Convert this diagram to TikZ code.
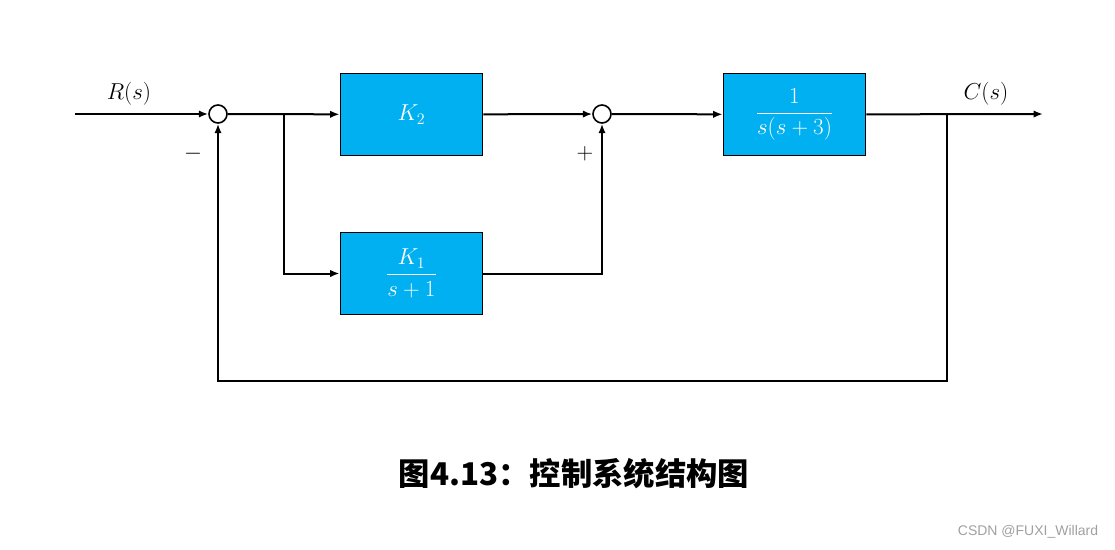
\documentclass[tikz,border=0pt]{standalone}
\usepackage{amsmath}
\usepackage{fontspec}
\usetikzlibrary{arrows.meta}
\newfontfamily\cjk{Noto Sans CJK SC}
\newfontfamily\wm{Liberation Sans}
\definecolor{blk}{HTML}{00B0F0}
\definecolor{wmgray}{HTML}{A0A0A0}
\tikzset{
  blockbox/.style={draw=black, line width=0.9pt, fill=blk, minimum width=107pt, minimum height=62pt, inner sep=0pt, text=white, font=\fontsize{18.5}{22}\selectfont},
  sumnode/.style={draw=black, circle, line width=1.2pt, minimum size=13.5pt, inner sep=0pt, fill=white},
  conn/.style={line width=1.5pt, -{Latex[length=7pt,width=5.5pt]}},
  lbl/.style={font=\fontsize{18.5}{22}\selectfont},
}
\begin{document}
\begin{tikzpicture}[x=0.75pt, y=-0.75pt]
\useasboundingbox (0,0) rectangle (1115,550);
\node[sumnode] (s1) at (218,114) {};
\node[sumnode] (s2) at (602,114) {};
\node[blockbox] (k2) at (411.5,114.5) {$K_2$};
\node[blockbox] (k1) at (411.5,273.5) {$\dfrac{K_1}{s+1}$};
\node[blockbox] (g) at (794.5,114.5) {$\dfrac{1}{s(s+3)}$};
\coordinate (in) at (75,114);
\coordinate (out) at (1043,114);
\coordinate (br1) at (284,114);
\coordinate (br2) at (947,114);
\coordinate (fb) at (947,381);
\draw[conn] (in) -- (s1);
\draw[conn] (s1) -- (k2);
\draw[conn] (br1) |- (k1);
\draw[conn] (k2) -- (s2);
\draw[conn] (k1) -| (s2);
\draw[conn] (s2) -- (g);
\draw[conn] (g) -- (out);
\draw[conn] (br2) -- (fb) -| (s1);
\node[lbl] (rl) at (129,94) {$R(s)$};
\node[lbl] (cl) at (986,94) {$C(s)$};
\node[lbl] (minus) at (193,154) {$-$};
\node[lbl] (plus) at (585,154) {$+$};
\node[font={\cjk\bfseries\fontsize{23.5}{28}\selectfont}] (cap) at (574,474) {图4.13：控制系统结构图};
\node[font={\wm\fontsize{10.5}{12}\selectfont}, text=wmgray] (wmk) at (1028,532) {CSDN @FUXI\_Willard};
\end{tikzpicture}
\end{document}
